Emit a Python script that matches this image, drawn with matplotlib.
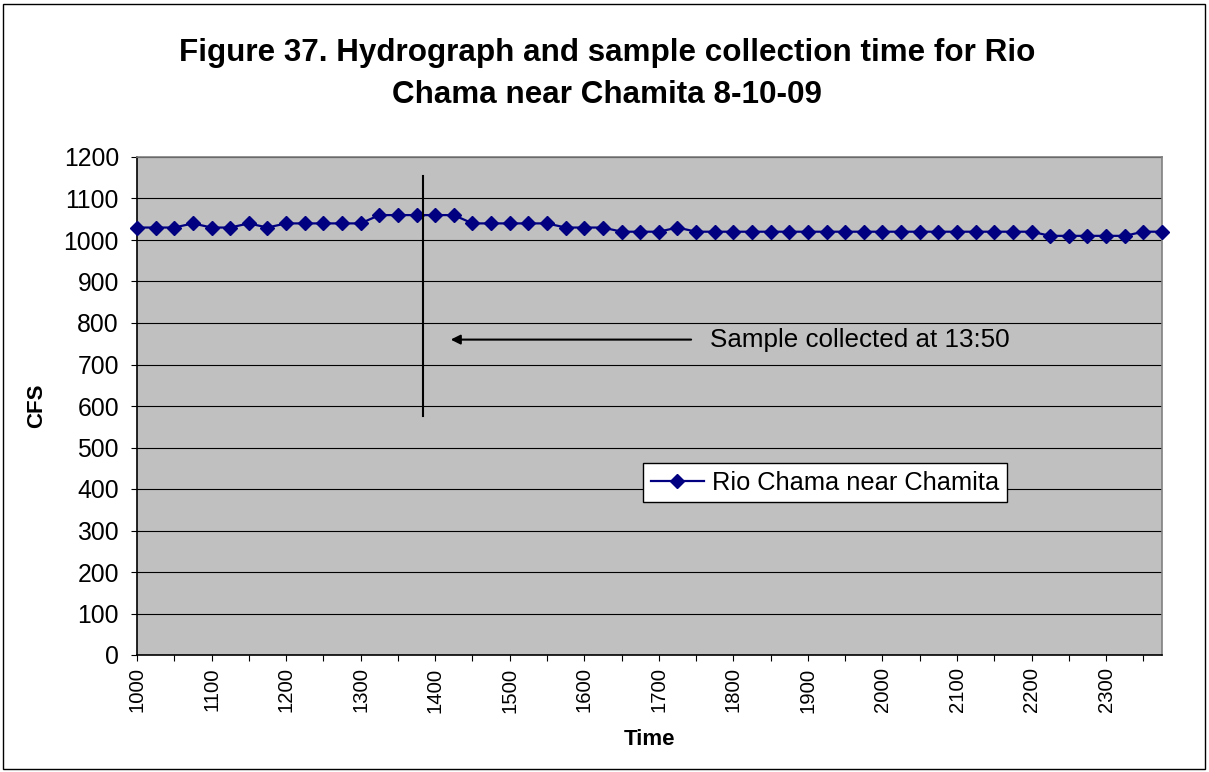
"""Hydrograph for Rio Chama near Chamita, 8-10-09, with the sample time marked."""
import matplotlib

matplotlib.use("Agg")
import matplotlib.pyplot as plt  # noqa: E402
import numpy as np  # noqa: E402
from matplotlib.patches import Rectangle  # noqa: E402

plt.rcParams["font.family"] = ["Liberation Sans", "DejaVu Sans"]

# 15-minute readings, 10:00 .. 23:45
TIMES = [f"{h}{m:02d}" for h in range(10, 24) for m in (0, 15, 30, 45)]
CFS = [1030, 1030, 1030, 1040, 1030, 1030, 1040, 1030, 1040, 1040,
       1040, 1040, 1040, 1060, 1060, 1060, 1060, 1060, 1040, 1040,
       1040, 1040, 1040, 1030, 1030, 1030, 1020, 1020, 1020, 1030,
       1020, 1020, 1020, 1020, 1020, 1020, 1020, 1020, 1020, 1020,
       1020, 1020, 1020, 1020, 1020, 1020, 1020, 1020, 1020, 1010,
       1010, 1010, 1010, 1010, 1020, 1020]
SERIES = "Rio Chama near Chamita"
SAMPLE_TIME = "13:50"
TITLE = "Figure 37. Hydrograph and sample collection time for Rio\nChama near Chamita 8-10-09"

W, H = 1209, 772
NAVY = "#000080"


def _time_index(hhmm: str) -> float:
    h, m = (int(v) for v in hhmm.split(":"))
    return (h * 60 + m - 600) / 15.0


def main() -> None:
    fig = plt.figure(figsize=(W / 100, H / 100), dpi=100)
    fig.patch.set_facecolor("white")
    fig.patches.append(Rectangle((3 / W, 3 / H), 1202 / W, 765 / H,
                                 transform=fig.transFigure, fill=False,
                                 ec="black", lw=1.0))

    ax = fig.add_axes([137 / W, 1 - 655 / H, (1162 - 137) / W, (655 - 157) / H])
    ax.set_facecolor("#C0C0C0")

    x = np.arange(len(TIMES))
    ax.plot(x, CFS, "-D", color=NAVY, lw=1.6, ms=6.8, mec=NAVY, mfc=NAVY,
            clip_on=False, label=SERIES, zorder=3)

    ax.set_xlim(0, len(TIMES) - 1)
    ax.set_ylim(0, 1200)
    ax.set_yticks(np.arange(0, 1201, 100))
    ax.yaxis.grid(True, color="black", lw=0.8)
    ax.set_axisbelow(True)

    ax.set_xticks(x[::4])
    ax.set_xticklabels(TIMES[::4], rotation=90)
    ax.set_xticks(x[2::4], minor=True)
    ax.tick_params(axis="x", which="both", direction="out", length=4,
                   width=0.8, labelsize=14.6, pad=5)
    ax.tick_params(axis="y", direction="out", length=4, width=0.8,
                   labelsize=17.8, pad=9)

    for side in ("left", "bottom"):
        ax.spines[side].set_color("black")
        ax.spines[side].set_linewidth(1.2)
    for side in ("top", "right"):
        ax.spines[side].set_color("#808080")
        ax.spines[side].set_linewidth(1.2)

    ax.set_ylabel("CFS", fontsize=16, fontweight="bold", labelpad=12)
    ax.set_xlabel("Time", fontsize=16, fontweight="bold", labelpad=12)

    # sample collection marker and arrow
    s = _time_index(SAMPLE_TIME)
    ax.plot([s, s], [1155, 575], color="black", lw=1.5, zorder=4)
    ax.annotate("", xy=(s + 1.5, 760), xytext=(s + 14.4, 760),
                arrowprops=dict(arrowstyle="-|>", color="black", lw=1.5,
                                mutation_scale=14, shrinkA=0, shrinkB=0))
    ax.text(s + 15.4, 760, f"Sample collected at {SAMPLE_TIME}", fontsize=18.7,
            va="center", ha="left")

    ax.legend(loc="upper left", bbox_to_anchor=(643 / W, 1 - 463 / H),
              bbox_transform=fig.transFigure, borderaxespad=0, fontsize=18.3,
              fancybox=False, framealpha=1, edgecolor="black", borderpad=0.3,
              handlelength=2.1, handletextpad=0.3).get_frame().set_linewidth(1.0)

    fig.text(0.502, 1 - 74 / H, TITLE, ha="center", va="center", fontsize=22.6,
             fontweight="bold", linespacing=1.55)

    fig.savefig("out.png", dpi=100)
    plt.close(fig)


if __name__ == "__main__":
    main()
